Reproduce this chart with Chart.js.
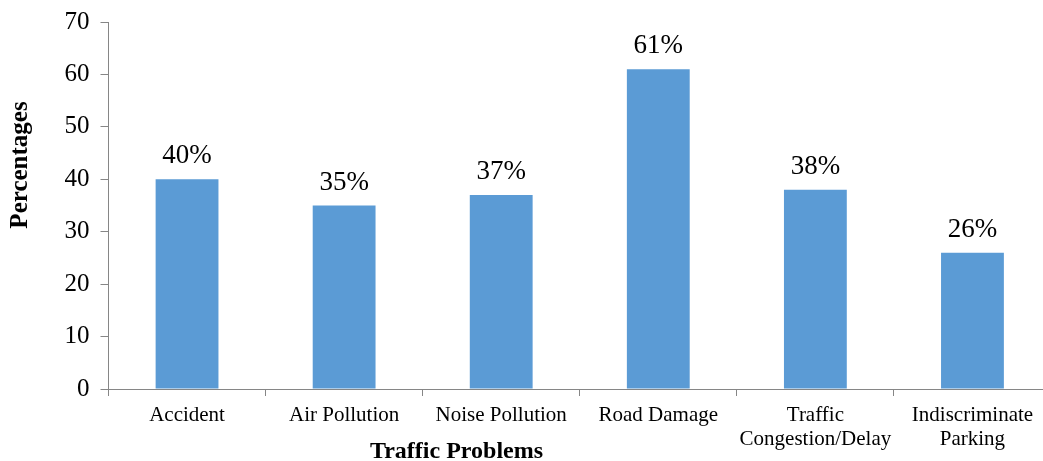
<!DOCTYPE html>
<html>
<head>
<meta charset="utf-8">
<script src="https://cdn.jsdelivr.net/npm/chart.js@4"></script>
<style>
  html, body { margin: 0; padding: 0; background: #ffffff; overflow: hidden; }
  #wrap { position: relative; width: 1052px; height: 461px; }
</style>
</head>
<body>
<div id="wrap"><canvas id="chart"></canvas></div>
<script>
// Survey results: share of respondents naming each traffic problem
const categories = [
  ['Accident'],
  ['Air Pollution'],
  ['Noise Pollution'],
  ['Road Damage'],
  ['Traffic', 'Congestion/Delay'],
  ['Indiscriminate', 'Parking']
];
const percentages = [40, 35, 37, 61, 38, 26];
const yTickValues = [0, 10, 20, 30, 40, 50, 60, 70];
const xAxisTitle = 'Traffic Problems';
const yAxisTitle = 'Percentages';

const SERIF = '"Liberation Serif", "Times New Roman", serif';
const AXIS_GREY = '#868686';
const BAR_BLUE = '#5B9BD5';

// Value labels above bars plus the two axis titles
const annotate = {
  id: 'annotate',
  afterDatasetsDraw(chart) {
    const ctx = chart.ctx;
    const area = chart.chartArea;
    const meta = chart.getDatasetMeta(0);
    ctx.save();
    ctx.fillStyle = '#000000';
    ctx.font = '27px ' + SERIF;
    ctx.textAlign = 'center';
    ctx.textBaseline = 'alphabetic';
    meta.data.forEach((bar, i) => {
      ctx.fillText(percentages[i] + '%', bar.x, bar.y - 16);
    });

    ctx.font = 'bold 24px ' + SERIF;
    ctx.textBaseline = 'alphabetic';
    ctx.fillText(xAxisTitle, area.left + 348, 458);

    ctx.translate(21, 165);
    ctx.rotate(-Math.PI / 2);
    ctx.font = 'bold 25px ' + SERIF;
    ctx.textBaseline = 'middle';
    ctx.fillText(yAxisTitle, 0, 0);
    ctx.restore();
  }
};

new Chart(document.getElementById('chart'), {
  type: 'bar',
  data: {
    labels: categories,
    datasets: [{
      data: percentages,
      backgroundColor: BAR_BLUE,
      borderWidth: 0,
      categoryPercentage: 1.0,
      barPercentage: 0.4
    }]
  },
  options: {
    responsive: true,
    maintainAspectRatio: false,
    animation: false,
    layout: { padding: { top: 22, right: 1, left: 0, bottom: 0 } },
    plugins: {
      legend: { display: false },
      tooltip: { enabled: false }
    },
    scales: {
      x: {
        offset: true,
        grid: {
          offset: true,
          drawOnChartArea: false,
          drawTicks: true,
          tickLength: 7,
          color: AXIS_GREY,
          lineWidth: 1
        },
        border: { display: true, color: AXIS_GREY, width: 1 },
        ticks: {
          color: '#000000',
          font: { family: SERIF, size: 21, lineHeight: 1.15 },
          maxRotation: 0,
          autoSkip: false,
          padding: 7
        },
        afterFit(scale) {
          scale.height = 72;
          scale.paddingLeft = 0;
          scale.paddingRight = 0;
        }
      },
      y: {
        min: 0,
        max: 70,
        afterBuildTicks(scale) {
          scale.ticks = yTickValues.map(v => ({ value: v }));
        },
        grid: {
          drawOnChartArea: false,
          drawTicks: true,
          tickLength: 8,
          color: AXIS_GREY,
          lineWidth: 1
        },
        border: { display: true, color: AXIS_GREY, width: 1 },
        ticks: {
          color: '#000000',
          font: { family: SERIF, size: 25 },
          padding: 11
        },
        afterFit(scale) {
          scale.width = 108.5;
          scale.paddingTop = 0;
          scale.paddingBottom = 0;
        }
      }
    }
  },
  plugins: [annotate]
});
</script>
</body>
</html>
